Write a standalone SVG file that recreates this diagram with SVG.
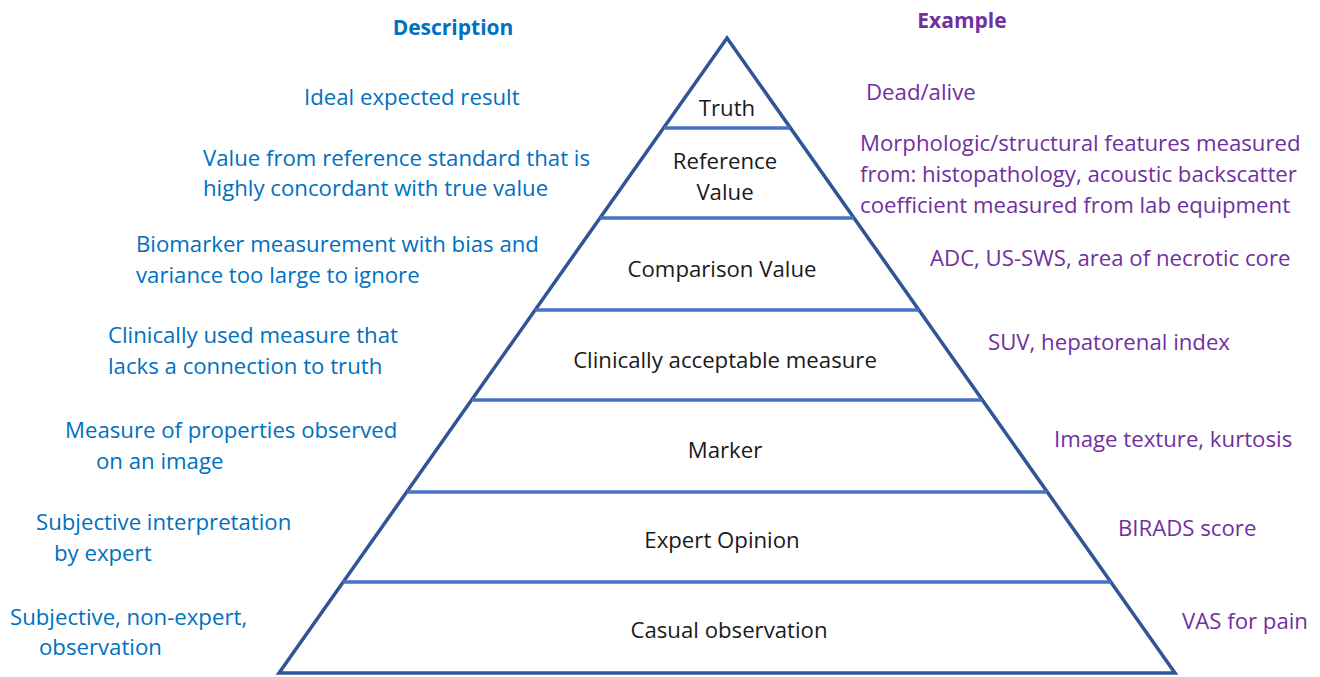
<svg xmlns="http://www.w3.org/2000/svg" width="1320" height="677" viewBox="0 0 1320 677">
<style>
text{font-family:"Open Sans",Lato,sans-serif;font-size:22.2px}
.d{fill:#0070C0}
.e{fill:#7030A0}
.h{font-weight:bold;font-size:21px}
.l{fill:#1a1a1a;text-anchor:middle}
.edge{fill:none;stroke:#2F5597;stroke-width:3.5;stroke-linejoin:miter}
.tier{stroke:#4472C4;stroke-width:3.5}
</style>
<rect width="1320" height="677" fill="#fff"/>
<g id="pyramid">
<polygon class="edge" points="727,38 1175,673 279,673"/>
</g>
<g id="connectors">
<line class="tier" x1="664" y1="128" x2="790" y2="128"/>
<line class="tier" x1="600" y1="218" x2="854" y2="218"/>
<line class="tier" x1="535" y1="310" x2="919" y2="310"/>
<line class="tier" x1="472" y1="400" x2="982" y2="400"/>
<line class="tier" x1="407" y1="492" x2="1047" y2="492"/>
<line class="tier" x1="343" y1="582" x2="1111" y2="582"/>
</g>
<g id="tier-truth"><text class="l" x="727" y="116">Truth</text></g>
<g id="tier-reference"><text class="l" x="725" y="169">Reference</text><text class="l" x="725" y="200">Value</text></g>
<g id="tier-comparison"><text class="l" x="722" y="277">Comparison Value</text></g>
<g id="tier-clinical"><text class="l" x="725" y="368">Clinically acceptable measure</text></g>
<g id="tier-marker"><text class="l" x="725" y="458">Marker</text></g>
<g id="tier-expert"><text class="l" x="722" y="548">Expert Opinion</text></g>
<g id="tier-casual"><text class="l" x="729" y="638">Casual observation</text></g>
<g id="description">
<text class="d h" x="453" y="35" text-anchor="middle">Description</text>
<text class="d" x="304" y="105">Ideal expected result</text>
<text class="d" x="203" y="166">Value from reference standard that is</text>
<text class="d" x="203" y="196">highly concordant with true value</text>
<text class="d" x="136" y="252">Biomarker measurement with bias and</text>
<text class="d" x="136" y="283">variance too large to ignore</text>
<text class="d" x="108" y="343">Clinically used measure that</text>
<text class="d" x="108" y="374">lacks a connection to truth</text>
<text class="d" x="65" y="438">Measure of properties observed</text>
<text class="d" x="96" y="469">on an image</text>
<text class="d" x="36" y="530">Subjective interpretation</text>
<text class="d" x="54" y="561">by expert</text>
<text class="d" x="10" y="625">Subjective, non-expert,</text>
<text class="d" x="39" y="655">observation</text>
</g>
<g id="example">
<text class="e h" x="962" y="28" text-anchor="middle">Example</text>
<text class="e" x="866" y="100">Dead/alive</text>
<text class="e" x="860" y="151">Morphologic/structural features measured</text>
<text class="e" x="860" y="182">from: histopathology, acoustic backscatter</text>
<text class="e" x="860" y="213">coefficient measured from lab equipment</text>
<text class="e" x="930" y="266">ADC, US-SWS, area of necrotic core</text>
<text class="e" x="988" y="350">SUV, hepatorenal index</text>
<text class="e" x="1054" y="447">Image texture, kurtosis</text>
<text class="e" x="1118" y="536">BIRADS score</text>
<text class="e" x="1182" y="629">VAS for pain</text>
</g>
</svg>
